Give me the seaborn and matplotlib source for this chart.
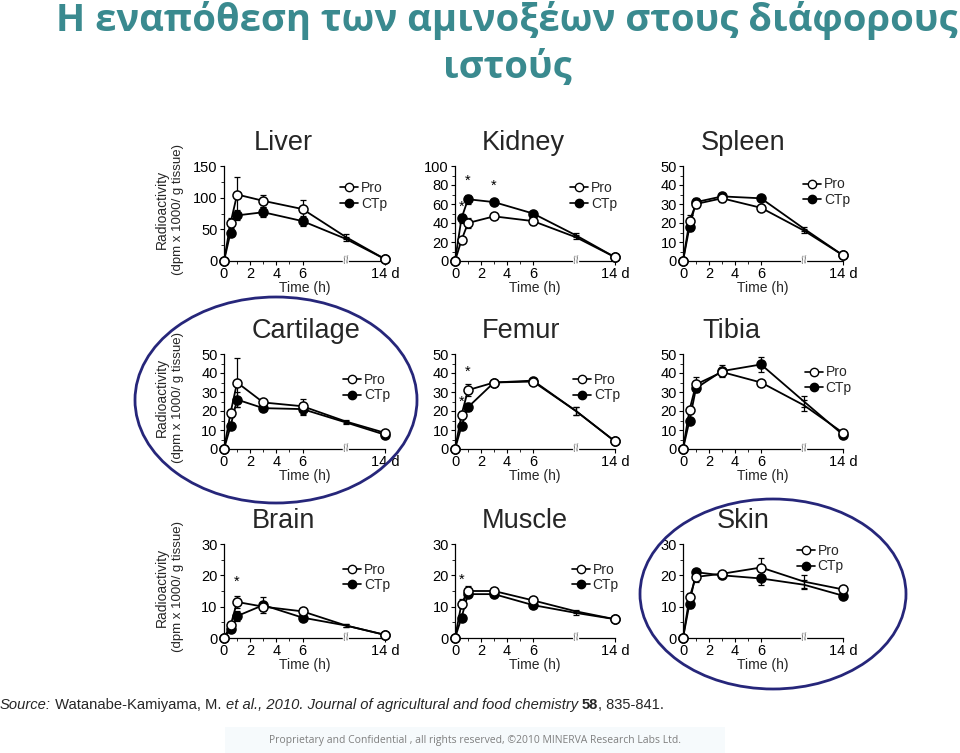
import matplotlib
matplotlib.use("Agg")
import matplotlib.pyplot as plt
from matplotlib.patches import Ellipse, Rectangle
from matplotlib.lines import Line2D
import seaborn as sns
import pandas as pd
import numpy as np

# ---------------- data ----------------
TISSUES = ["Liver", "Kidney", "Spleen", "Cartilage", "Femur", "Tibia", "Brain", "Muscle", "Skin"]
TIME_POS = [0, 0.5, 1, 3, 6, 9.3, 12.3]          # 0, 0.5, 1, 3, 6 h, 1 d, 14 d
XTICK_POS = [0, 2, 4, 6, 12.3]
XTICK_LABELS = ["0", "2", "4", "6", "14 d"]

pro = {
    "Liver":     [0, 60, 105, 95, 82, 38, 3],
    "Kidney":    [0, 22, 40, 47, 42, 25, 4],
    "Spleen":    [0, 21, 30, 33, 28, 16, 3],
    "Cartilage": [0, 19, 35, 24.5, 22.5, 14.5, 8.5],
    "Femur":     [0, 18, 31, 35, 35.5, 20, 4],
    "Tibia":     [0, 20.5, 34, 40.5, 35, 23, 8.5],
    "Brain":     [0, 4, 11.5, 10, 8.5, 4, 1],
    "Muscle":    [0, 11, 15, 15, 12, 8.5, 6],
    "Skin":      [0, 13, 19.5, 20.5, 22.5, 18, 15.5],
}
ctp = {
    "Liver":     [0, 45, 72, 77, 63, 35, 3],
    "Kidney":    [0, 45, 65, 62, 50, 27, 4],
    "Spleen":    [0, 18, 31, 34, 33, 17, 3],
    "Cartilage": [0, 12, 26, 21.5, 21, 14, 7.5],
    "Femur":     [0, 12, 22, 35, 36, 20, 4],
    "Tibia":     [0, 15, 32, 41, 44.5, 25, 7.5],
    "Brain":     [0, 3, 7, 10.5, 6.5, 4, 1],
    "Muscle":    [0, 6.5, 14, 14, 10.5, 8, 6],
    "Skin":      [0, 11, 21, 20, 19, 17, 13.5],
}
pro_err = {
    "Liver":     [0, 8, 28, 10, 15, 4, 2],
    "Kidney":    [0, 3, 5, 2, 4, 2, 1],
    "Spleen":    [0, 3, 2, 2, 1, 1, 0.5],
    "Cartilage": [0, 2, 13, 1.5, 4, 1, 0.5],
    "Femur":     [0, 2, 3, 1, 1, 2, 0.5],
    "Tibia":     [0, 1, 4, 2, 1, 3, 0.5],
    "Brain":     [0, 1, 2, 1.5, 1, 0.5, 0.2],
    "Muscle":    [0, 1.5, 1.5, 1, 1, 0.5, 0.5],
    "Skin":      [0, 1.5, 1.5, 1, 3, 2, 1],
}
ctp_err = {
    "Liver":     [0, 5, 8, 8, 8, 3, 2],
    "Kidney":    [0, 5, 5, 2, 2, 2, 1],
    "Spleen":    [0, 2, 2, 2, 1, 1, 0.5],
    "Cartilage": [0, 1.5, 4, 1.5, 3, 1, 0.5],
    "Femur":     [0, 1.5, 2, 1, 1, 2, 0.5],
    "Tibia":     [0, 1, 2, 3, 4, 3, 0.5],
    "Brain":     [0, 0.8, 1.5, 2.5, 0.8, 0.5, 0.2],
    "Muscle":    [0, 1, 1, 1, 1, 0.5, 0.5],
    "Skin":      [0, 1.5, 1, 1, 2, 1.5, 0.8],
}
YTICKS = {
    "Liver": [0, 50, 100, 150],
    "Kidney": [0, 20, 40, 60, 80, 100],
    "Spleen": [0, 10, 20, 30, 40, 50],
    "Cartilage": [0, 10, 20, 30, 40, 50],
    "Femur": [0, 10, 20, 30, 40, 50],
    "Tibia": [0, 10, 20, 30, 40, 50],
    "Brain": [0, 10, 20, 30],
    "Muscle": [0, 10, 20, 30],
    "Skin": [0, 10, 20, 30],
}
ASTERISKS = {
    "Kidney": [(0.5, 57), (1, 84), (3, 79)],
    "Femur": [(0.5, 25), (1, 40.5)],
    "Brain": [(1, 18)],
    "Muscle": [(0.5, 18.5)],
}

TITLE_LINES = ["Η εναπόθεση των αμινοξέων στους διάφορους", "ιστούς"]
FOOTER = "Proprietary and Confidential , all rights reserved, ©2010 MINERVA Research Labs Ltd."

# ---------------- style ----------------
sns.set_theme(style="ticks")
plt.rcParams["font.family"] = ["Liberation Sans", "DejaVu Sans"]

W, H = 960, 753
fig = plt.figure(figsize=(W / 100, H / 100), dpi=100)
fig.patch.set_facecolor("white")

# axes boxes in pixels: (left, right), (top, bottom)
col_px = [(224, 385), (455, 615), (683, 843)]
row_px = [(166, 261), (354, 449), (544, 638)]
title_cx = [283, 523, 743, 306, 521, 731, 283, 525, 743]
leg_anchor = [(0.72, 0.84), (0.72, 0.84), (0.75, 0.88), (0.74, 0.80), (0.74, 0.80), (0.76, 0.88),
              (0.74, 0.80), (0.73, 0.80), (0.71, 1.0)]

def fx(px):
    return px / W

def fy(py):
    return 1 - py / H

for i, tissue in enumerate(TISSUES):
    r, c = divmod(i, 3)
    (l, rr), (t, b) = col_px[c], row_px[r]
    ax = fig.add_axes([fx(l), fy(b), fx(rr - l), (b - t) / H])
    ax.set_facecolor("white")

    df = pd.DataFrame({
        "time": TIME_POS * 2,
        "value": pro[tissue] + ctp[tissue],
        "err": pro_err[tissue] + ctp_err[tissue],
        "series": ["Pro"] * len(TIME_POS) + ["CTp"] * len(TIME_POS),
    })
    marks = [0, 1, 2, 3, 4, 6]
    for s, fc in (("CTp", "black"), ("Pro", "white")):
        d = df[df["series"] == s]
        ax.errorbar(d["time"], d["value"], yerr=d["err"], fmt="none", ecolor="black",
                    elinewidth=0.9, capsize=2.5, capthick=0.9, zorder=2, clip_on=False)
        sns.lineplot(data=d, x="time", y="value", ax=ax, color="black", linewidth=1.3,
                     marker="o", markersize=6.5, markerfacecolor=fc, markeredgecolor="black",
                     markeredgewidth=1.1, markevery=marks, clip_on=False, zorder=3,
                     estimator=None, sort=False)

    ymax = YTICKS[tissue][-1]
    ax.set_xlim(0, 12.3)
    ax.set_ylim(0, ymax)
    ax.set_xticks(XTICK_POS)
    ax.set_xticklabels(XTICK_LABELS)
    ax.set_xticks([1, 3, 5], minor=True)
    ax.set_yticks(YTICKS[tissue])
    step = YTICKS[tissue][1] - YTICKS[tissue][0]
    ax.set_yticks(np.arange(step / 2, ymax, step), minor=True)
    ax.tick_params(axis="both", which="major", labelsize=10.5, length=3, width=0.8,
                   pad=1.5, colors="black")
    ax.tick_params(axis="both", which="minor", length=2, width=0.7)
    ax.set_xlabel("Time (h)", fontsize=10, labelpad=0)
    ax.set_ylabel("")
    for sp in ("top", "right"):
        ax.spines[sp].set_visible(False)
    for sp in ("left", "bottom"):
        ax.spines[sp].set_linewidth(0.9)
        ax.spines[sp].set_color("black")

    # axis break marker
    ax.text(9.3, 0, "//", fontsize=7, ha="center", va="center", color="#555555",
            rotation=10, clip_on=False, zorder=4,
            bbox=dict(facecolor="white", edgecolor="none", pad=0.2))

    for (xa, ya) in ASTERISKS.get(tissue, []):
        ax.text(xa, ya, "*", fontsize=10.5, ha="center", va="center", color="black")

    handles = [Line2D([0], [0], color="black", lw=1.2, marker="o", markersize=6,
                      markerfacecolor="white", markeredgecolor="black"),
               Line2D([0], [0], color="black", lw=1.2, marker="o", markersize=6,
                      markerfacecolor="black", markeredgecolor="black")]
    ax.legend(handles, ["Pro", "CTp"], loc="upper left", bbox_to_anchor=leg_anchor[i],
              frameon=False, fontsize=10, handlelength=1.3, handletextpad=0.2,
              labelspacing=0.1, borderpad=0, borderaxespad=0)

    fig.text(fx(title_cx[i]), fy(t - 23), tissue, fontsize=19.5, ha="center", va="center")

    if c == 0:
        fig.text(fx(l - 62), fy((t + b) / 2 - 4), "Radioactivity", rotation=90,
                 fontsize=10, ha="center", va="center")
        fig.text(fx(l - 46), fy((t + b) / 2 - 4), "(dpm x 1000/ g tissue)", rotation=90,
                 fontsize=9.5, ha="center", va="center")

# Title
fig.text(fx(507), fy(21), TITLE_LINES[0], fontsize=27.5, fontweight="bold", color="#3a8a8f",
         ha="center", va="center", family=["Open Sans", "DejaVu Sans"])
fig.text(fx(507), fy(68), TITLE_LINES[1], fontsize=27.5, fontweight="bold", color="#3a8a8f",
         ha="center", va="center", family=["Open Sans", "DejaVu Sans"])

# ellipses
fig.patches.append(Ellipse((fx(276), fy(400)), fx(282), 206 / H, transform=fig.transFigure,
                           fill=False, edgecolor="#26267a", linewidth=2, zorder=10))
fig.patches.append(Ellipse((fx(773), fy(594)), fx(266), 190 / H, transform=fig.transFigure,
                           fill=False, edgecolor="#26267a", linewidth=2, zorder=10))

# source line (mixed styles)
renderer = fig.canvas.get_renderer()
pieces = [("Source:", "italic", "normal"), (" Watanabe-Kamiyama, M. ", "normal", "normal"),
          ("et al., 2010. Journal of agricultural and food chemistry ", "italic", "normal"),
          ("58", "normal", "bold"), (", 835-841.", "normal", "normal")]
xpos = 0.0
for txt, st, wt in pieces:
    tt = fig.text(xpos, fy(705), txt, fontsize=10.6, style=st, fontweight=wt,
                  ha="left", va="center",
                  family=["Liberation Sans Narrow", "Liberation Sans", "DejaVu Sans"])
    bb = tt.get_window_extent(renderer=renderer)
    xpos += bb.width / W

# footer
fig.patches.append(Rectangle((fx(225), 0), fx(500), 26 / H, transform=fig.transFigure,
                             facecolor="#f6fafc", edgecolor="none", zorder=0))
fig.text(fx(475), fy(740), FOOTER, fontsize=7.5, color="#7f7f7f", ha="center", va="center",
         family=["Open Sans", "DejaVu Sans"])

fig.savefig("out.png", dpi=100)
